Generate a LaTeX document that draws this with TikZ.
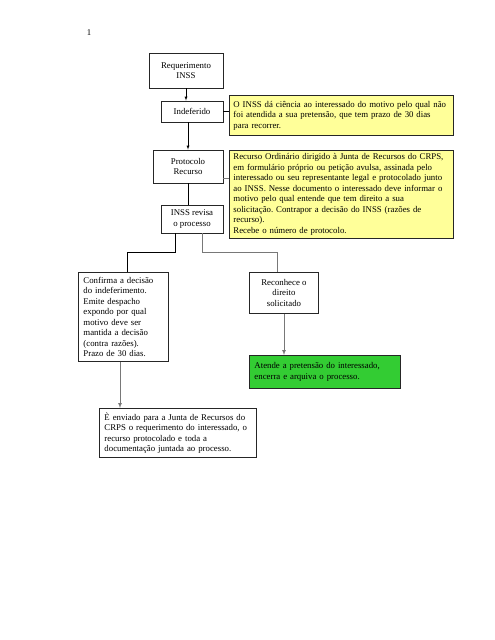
\documentclass[tikz,border=0pt]{standalone}
\usepackage{fontspec}
\setmainfont{Liberation Serif}
\usetikzlibrary{shapes,arrows,positioning,calc}
\usepackage{xcolor}
\definecolor{noteyellow}{RGB}{255,255,153}
\definecolor{donegreen}{RGB}{51,204,51}
\definecolor{linegray}{RGB}{120,120,120}
\frenchspacing

\begin{document}
\begin{tikzpicture}[x=1pt, y=-1pt, font=\fontsize{8.8}{10.5}\selectfont,
    stepbox/.style={draw=black!85, fill=white, line width=0.9pt, align=center, inner sep=2pt},
    textbox/.style={draw=black!85, line width=0.9pt, align=left, inner xsep=5pt, inner ysep=2pt, anchor=north west},
    flow/.style={-latex, black},
    grayflow/.style={-latex, linegray, line width=0.7pt}]
    \useasboundingbox (0,0) rectangle (495,640);

    % Page number
    \node (page) at (89,33) {1};

    % Main column
    \node[stepbox, minimum width=74, minimum height=35] (req) at (186,70.5) {Requerimento\\INSS};
    \node[stepbox, minimum width=62, minimum height=21] (indef) at (192,111.5) {Indeferido};
    \node[stepbox, minimum width=70, minimum height=33] (prot) at (188,166.5) {Protocolo\\Recurso};
    \node[stepbox, minimum width=62, minimum height=28] (revisa) at (192,219) {INSS revisa\\o processo};

    % Notes
    \node[textbox, fill=noteyellow, text width=216, minimum width=224, minimum height=40, inner xsep=4pt] (note1) at (229,95)
        {O INSS dá ciência ao interessado do motivo pelo qual não\\foi atendida a sua pretensão, que tem prazo de 30 dias\\para recorrer.};
    \node[textbox, fill=noteyellow, text width=216, minimum width=224, minimum height=88, inner xsep=4pt] (note2) at (229,150)
        {Recurso Ordinário dirigido à Junta de Recursos do CRPS,\\em formulário próprio ou petição avulsa, assinada pelo\\interessado ou seu representante legal e protocolado junto\\ao INSS. Nesse documento o interessado deve informar o\\motivo pelo qual entende que tem direito a sua\\solicitação. Contrapor a decisão do INSS (razões de\\recurso).\\Recebe o número de protocolo.};

    % Outcomes
    \node[textbox, fill=white, text width=80, minimum width=90, minimum height=89] (confirm) at (78,272)
        {Confirma a decisão\\do indeferimento.\\Emite despacho\\expondo por qual\\motivo deve ser\\mantida a decisão\\(contra razões).\\Prazo de 30 dias.};
    \node[stepbox, minimum width=69, minimum height=41, anchor=north west] (recon) at (249,272) {Reconhece o\\direito\\solicitado};
    \node[textbox, fill=donegreen, text width=141, minimum width=151, minimum height=33] (done) at (249,355)
        {Atende a pretensão do interessado,\\encerra e arquiva o processo.};
    \node[textbox, fill=white, text width=147, minimum width=157, minimum height=49] (sent) at (99,408)
        {È enviado para a Junta de Recursos do\\CRPS o requerimento do interessado, o\\recurso protocolado e toda a\\documentação juntada ao processo.};

    % Branch points
    \coordinate (splitL) at (175,252);
    \coordinate (splitR) at (202,252);
    \coordinate (turnL) at (127,252);
    \coordinate (turnR) at (277,252);
    \coordinate (dropR) at (284,0);
    \coordinate (dropL) at (120,0);

    % Connectors
    \draw[flow] (req.south) -- (req.south |- indef.north);
    \draw[flow] (prot.north |- indef.south) -- (prot.north);
    \draw (prot.south) -- (prot.south |- revisa.north);
    \draw (indef.east) -- (indef.east -| note1.west);
    \draw[linegray, line width=0.9pt] ([yshift=-12pt]prot.east) -- ([yshift=-12pt]prot.east -| note2.west);
    \draw (revisa.south -| splitL) -- (splitL) -- (turnL) -- (turnL |- confirm.north);
    \draw[linegray, line width=0.9pt] (revisa.south -| splitR) -- (splitR) -- (turnR) -- (turnR |- recon.north);
    \draw[grayflow] (recon.south -| dropR) -- (done.north -| dropR);
    \draw[grayflow] (confirm.south -| dropL) -- (sent.north -| dropL);
\end{tikzpicture}
\end{document}
